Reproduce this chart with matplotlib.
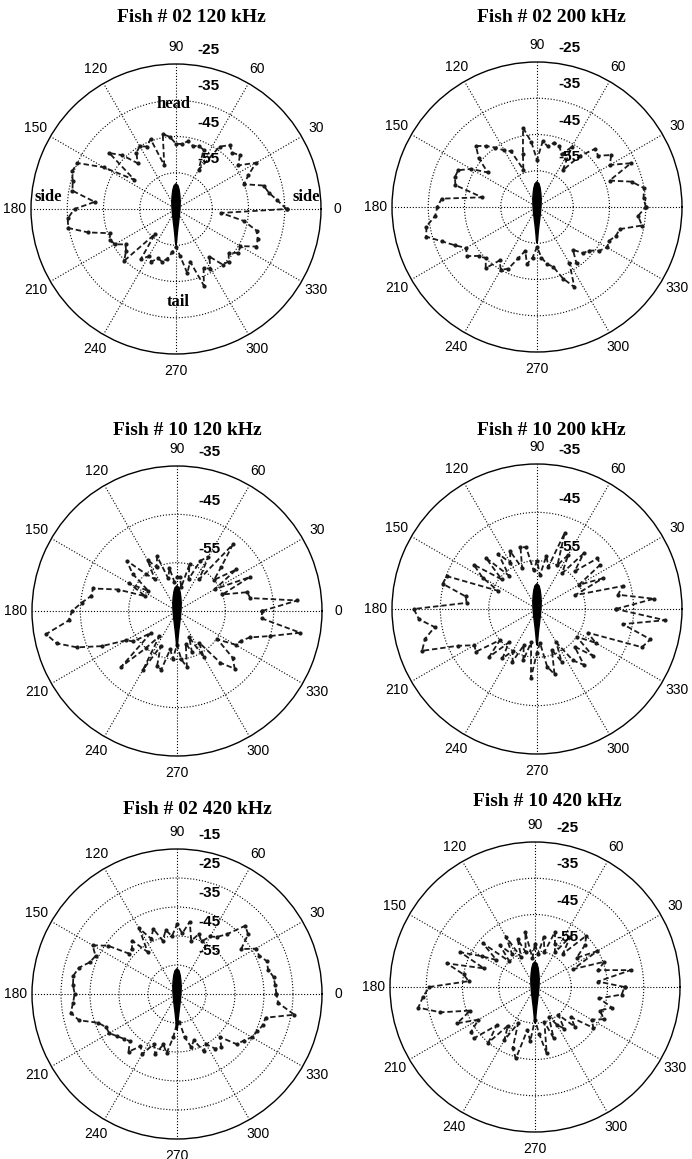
import numpy as np
import matplotlib.pyplot as plt
from matplotlib.patches import Polygon

plt.rcParams['font.family'] = ['Liberation Sans', 'DejaVu Sans']

# target strength (dB) read every 5 degrees, 0 = side, 90 = head, 270 = tail
angles = np.arange(0, 360, 5)

ts_f02_120 = [-34.5, -37, -39, -40, -45, -43, -39.5, -44, -42, -43, -42, -44,
              -52.5, -47, -46.5, -47, -46, -47, -47, -45, -44, -52.5, -44.5, -46,
              -45, -46, -48.5, -44, -41, -51, -42, -35, -34.5, -35.5, -36, -42.5,
              -37, -35, -34.8, -40, -45.5, -45, -45.5, -48, -47, -44.8, -56, -48,
              -50, -49, -50.5, -50, -51, -53, -54.6, -52, -47, -50, -42.5, -47,
              -46, -49, -45, -44.5, -46, -44, -44.5, -40.5, -41, -42, -46, -52.5]

ts_f02_200 = [-35, -35.5, -35, -38, -43.7, -36.4, -41.8, -40, -43, -42.3, -46.6, -52.7,
              -45.9, -49, -47, -46.6, -48, -46.8, -52, -47, -42.8, -50, -54, -48,
              -47, -45, -43, -41.2, -44, -48.4, -44, -41, -40.9, -41.7, -49.6, -38.6,
              -37.5, -36.8, -34, -33.4, -37.2, -40, -42.4, -41.4, -44, -45, -43, -47,
              -45, -46.2, -50, -52.5, -49, -51, -54, -51, -49, -48, -44, -40.6,
              -47.1, -46, -49.6, -47, -46.3, -44, -42.7, -43, -41.8, -41.4, -35.6, -37]

ts_f10_120 = [-47.4, -40, -49.6, -50, -55, -48.4, -56, -50, -55, -52, -47, -57,
              -52, -53.5, -58, -55, -60, -58, -58, -59, -56, -58, -53, -55,
              -52.8, -57, -55, -50.3, -53, -57.8, -53.6, -57.8, -52, -47, -47, -45.2,
              -43.3, -42.5, -37.5, -39.2, -43, -47.8, -52.9, -54, -58, -48.7, -55, -58.6,
              -51, -57, -53, -52.4, -57, -55, -58, -55, -53.2, -58, -56, -59,
              -54, -57, -51, -48.1, -50, -54.8, -51, -50.4, -49, -45, -39.1, -47.4]

ts_f10_200 = [-48.7, -40.7, -48, -46.6, -56.6, -50, -55, -49, -48.7, -54, -50, -56,
              -52, -55, -48.2, -56, -53.8, -58, -55, -57, -52, -51.8, -56, -51.8,
              -54, -51, -56, -50, -55.5, -49, -52, -56.1, -45.1, -44.8, -50, -50.4,
              -39.5, -40.5, -43.5, -41, -39.7, -47, -50, -49.6, -55, -51, -56, -52.5,
              -55, -53, -57, -54, -58, -50.7, -56, -58, -52.9, -51, -56, -53,
              -57, -52, -49.9, -54, -50, -55, -51, -53.4, -41.9, -40.7, -47, -38.4]

ts_f02_420 = [-30.7, -31, -31.2, -32.5, -32, -33.7, -33.7, -38, -33, -31.7, -38, -41,
              -42.1, -45, -43, -46, -39.7, -44, -41, -45, -42.6, -46, -41, -44,
              -38.9, -47.3, -41, -43, -43.3, -36, -31.4, -34, -33, -30, -28.7, -29,
              -29.7, -29, -27.8, -30, -36, -38, -38, -39.7, -41, -42, -39, -43,
              -41, -46, -43, -47, -44.2, -50, -55, -55.4, -50, -46, -48, -43.2,
              -45, -42, -41.3, -44, -38, -37, -35.2, -34.5, -33.5, -33.4, -23.9, -30]

ts_f10_420 = [-40.3, -47.6, -38.2, -47, -44.6, -53.3, -45.2, -51, -47, -45, -53, -48,
              -54, -52, -48.8, -55, -51, -56, -53, -57, -49.7, -55, -51, -56,
              -49, -54, -50, -55, -46.2, -52, -48, -42.3, -50, -39.8, -45, -46.6,
              -35.8, -34, -32.3, -38, -46, -41.3, -47, -43.5, -43, -50, -45, -52,
              -48, -54, -47, -44.6, -53, -50, -56, -52, -46.4, -55, -50, -56,
              -53, -51, -55, -49.5, -52, -45.3, -47, -44, -46, -43, -47, -41]

titles = ["Fish # 02 120 kHz", "Fish # 02 200 kHz",
          "Fish # 10 120 kHz", "Fish # 10 200 kHz",
          "Fish # 02 420 kHz", "Fish # 10 420 kHz"]
series = [ts_f02_120, ts_f02_200, ts_f10_120, ts_f10_200, ts_f02_420, ts_f10_420]
r_min = [-65, -65, -65, -65, -65, -65]
r_max = [-25, -25, -35, -35, -15, -25]

# fish outline (fraction of plot radius), head up
fish_y = [0.175, 0.16, 0.13, 0.09, 0.05, 0.01, -0.04, -0.09, -0.14, -0.19, -0.23, -0.25]
fish_w = [0.0, 0.014, 0.022, 0.027, 0.029, 0.028, 0.024, 0.018, 0.012, 0.007, 0.004, 0.0]

W, H = 692, 1159
R = 145
centers = [(176, 209), (537, 207), (177, 611), (537, 609), (177, 994), (535, 987)]
title_pos = [(191, 18), (551, 18), (187, 430), (551, 430), (197, 810), (547, 802)]

fig = plt.figure(figsize=(W / 100, H / 100), dpi=100)

for i in range(6):
    cx, cy = centers[i]
    ax = fig.add_axes([(cx - R) / W, 1 - (cy + R) / H, 2 * R / W, 2 * R / H],
                      projection='polar')
    lo, hi = r_min[i], r_max[i]
    th = np.deg2rad(np.append(angles, angles[0]))
    rv = np.append(series[i], series[i][0])
    ax.plot(th, rv, color='#1a1a1a', linestyle='--', dashes=(3, 1.6), linewidth=1.3,
            marker='.', markersize=4)
    ax.set_ylim(lo, hi)
    rings = np.arange(lo + 10, hi, 10)
    ax.set_yticks(rings)
    ax.set_yticklabels([])
    ax.set_xticks(np.deg2rad(np.arange(0, 360, 30)))
    ax.set_xticklabels([str(a) for a in range(0, 360, 30)])
    ax.tick_params(axis='x', labelsize=10, pad=5, length=0)
    ax.grid(True, color='black', linestyle=':', linewidth=0.8)
    ax.spines['polar'].set_linewidth(1.0)

    # radial labels, just above each ring
    for v in list(rings) + [hi]:
        f = (v - lo) / (hi - lo)
        ax.text(0.5 + 0.5 * 0.145, 0.5 + 0.5 * (f + 0.095), str(int(v)),
                transform=ax.transAxes, ha='left', va='center', fontsize=11,
                fontweight='bold')

    outline = [(0.5 + 0.5 * w, 0.5 + 0.5 * y) for w, y in zip(fish_w, fish_y)]
    outline += [(0.5 - 0.5 * w, 0.5 + 0.5 * y) for w, y in zip(fish_w[::-1], fish_y[::-1])]
    ax.add_patch(Polygon(outline, closed=True, transform=ax.transAxes,
                         facecolor='black', edgecolor='black', zorder=5))

    tx, ty = title_pos[i]
    fig.text(tx / W, 1 - ty / H, titles[i], ha='center', va='center', fontsize=14,
             fontweight='bold', family='Liberation Serif')

    if i == 0:
        for label, (x, y) in [("head", (-0.014, 0.724)), ("side", (-0.883, 0.083)),
                              ("side", (0.897, 0.083)), ("tail", (0.014, -0.641))]:
            ax.text(0.5 + 0.5 * x, 0.5 + 0.5 * y, label, transform=ax.transAxes,
                    ha='center', va='center', fontsize=12, fontweight='bold',
                    family='Liberation Serif')

fig.savefig('out.png', dpi=100, facecolor='white')
